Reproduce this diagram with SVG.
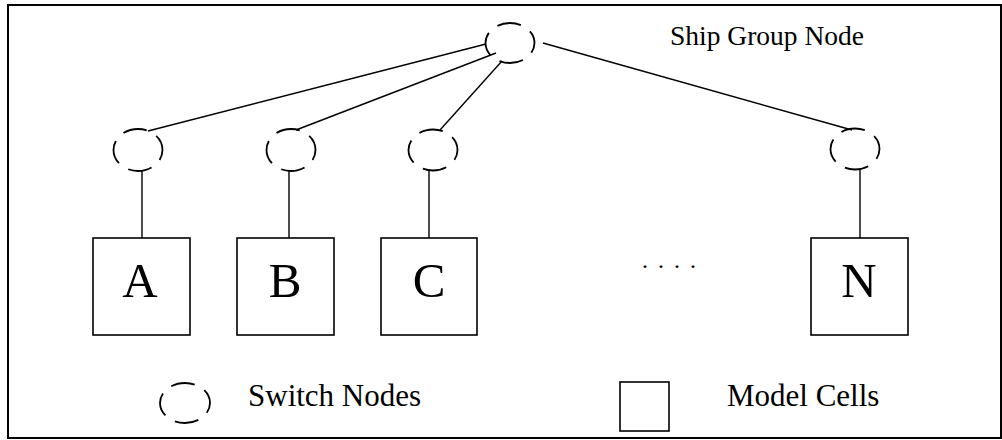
<svg xmlns="http://www.w3.org/2000/svg" width="1002" height="440" viewBox="0 0 1002 440">
  <style>
    .frame { fill: none; stroke: #000; stroke-width: 2; }
    .switch { fill: none; stroke: #000; stroke-width: 1.8; stroke-dasharray: 24 11; stroke-dashoffset: 13.5; }
    .cell { fill: #fff; stroke: #000; stroke-width: 1.6; }
    .link { fill: none; stroke: #000; stroke-width: 1.4; }
    .label { font-family: "Liberation Serif", "Times New Roman", serif; fill: #000; }
    .big { font-size: 49px; text-anchor: middle; }
    .caption { font-size: 31px; }
  </style>

  <rect class="frame" x="8" y="5" width="993" height="433"/>

  <!-- connectors -->
  <g id="connectors">
    <line class="link" x1="486" y1="44" x2="148" y2="131"/>
    <line class="link" x1="496" y1="53" x2="296" y2="130"/>
    <line class="link" x1="502" y1="61" x2="440" y2="130"/>
    <line class="link" x1="543" y1="43" x2="852" y2="130"/>
    <line class="link" x1="142" y1="171" x2="142" y2="238"/>
    <line class="link" x1="289" y1="171" x2="289" y2="238"/>
    <line class="link" x1="429" y1="170" x2="429" y2="238"/>
    <line class="link" x1="860" y1="169" x2="860" y2="238"/>
  </g>

  <!-- ship group node -->
  <g id="ship-group-node">
    <ellipse class="switch" cx="510" cy="43" rx="24.5" ry="20"/>
    <text class="label" x="670" y="45" font-size="27.5">Ship Group Node</text>
  </g>

  <!-- switch nodes -->
  <g id="switch-a"><ellipse class="switch" cx="138" cy="150" rx="24.5" ry="21"/></g>
  <g id="switch-b"><ellipse class="switch" cx="291" cy="150" rx="24.5" ry="21"/></g>
  <g id="switch-c"><ellipse class="switch" cx="433" cy="150" rx="24.5" ry="20.5"/></g>
  <g id="switch-n"><ellipse class="switch" cx="855" cy="149" rx="24.5" ry="20.5"/></g>

  <!-- model cells -->
  <g id="cell-a">
    <rect class="cell" x="93" y="238" width="97" height="97"/>
    <text class="label big" x="140" y="297">A</text>
  </g>
  <g id="cell-b">
    <rect class="cell" x="237" y="238" width="97" height="97"/>
    <text class="label big" x="285" y="297">B</text>
  </g>
  <g id="cell-c">
    <rect class="cell" x="381" y="238" width="96" height="97"/>
    <text class="label big" x="429" y="297">C</text>
  </g>
  <g id="cell-n">
    <rect class="cell" x="811" y="238" width="97" height="97"/>
    <text class="label big" x="859" y="297">N</text>
  </g>

  <!-- ellipsis between C and N -->
  <text class="label" x="642" y="268" font-size="24" letter-spacing="10">....</text>

  <!-- legend -->
  <g id="legend-switch">
    <ellipse class="switch" cx="185" cy="403" rx="25" ry="20"/>
    <text class="label caption" x="248" y="406">Switch Nodes</text>
  </g>
  <g id="legend-cell">
    <rect class="cell" x="620" y="382" width="49" height="49"/>
    <text class="label caption" x="727" y="406">Model Cells</text>
  </g>
</svg>
